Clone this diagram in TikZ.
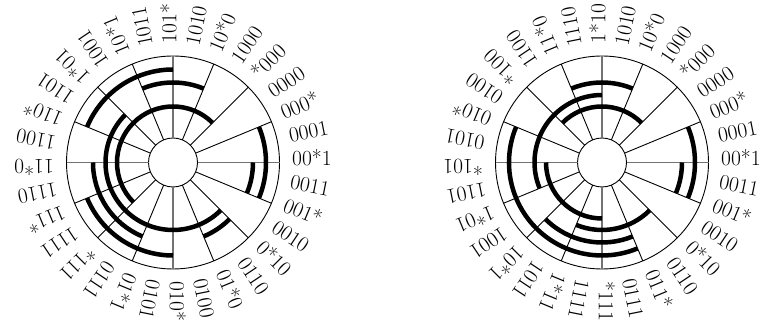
\documentclass[tikz,border=0pt]{standalone}
\usepackage{fontspec}
\setmainfont{Latin Modern Roman}
\newcommand\hvarc[3]{\draw[heavy] (#1:#3pt) arc[start angle=#1, end angle=#2, radius=#3pt];}
\begin{document}
\begin{tikzpicture}[x=1pt,y=1pt,
  thinline/.style={line width=0.9pt, draw=black},
  axisline/.style={line width=1.3pt, draw=black!55},
  heavy/.style={line width=4.5pt, line cap=butt, draw=black},
  lab/.style={anchor=west, inner sep=0pt, text height=0.65em, text depth=0pt,
              font=\fontsize{21.5}{24}\selectfont}]
\useasboundingbox (0,0) rectangle (762,328);
\coordinate (CA) at (173,165.5);
\coordinate (CB) at (602,165.5);
% ---------- left wheel ----------
\begin{scope}[shift={(CA)}]
  \draw[thinline] (0,0) circle[radius=106.5pt];
  \draw[thinline] (0,0) circle[radius=24.5pt];
  \foreach \a in {22.5,45,67.5,112.5,135,157.5,202.5,225,247.5,292.5,315,337.5}
    \draw[thinline] (\a:24.5pt) -- (\a:106.5pt);
  \foreach \a in {0,90,180,270}
    \draw[axisline] (\a:24.5pt) -- (\a:106.5pt);
  \foreach \t [count=\i from 0] in {00*1,0001,000*,0000,*000,1000,10*0,1010,101*,1011,10*1,1001,1*01,1101,110*,1100,11*0,1110,111*,1111,*111,0111,01*1,0101,010*,0100,01*0,0110,0*10,0010,001*,0011}
    \node[lab, rotate=\i*11.25] (A\i) at (\i*11.25:119pt) {\t};
  \hvarc{90}{157.5}{93}
  \hvarc{67.5}{112.5}{80}
  \hvarc{45}{225}{56}
  \hvarc{135}{315}{67.5}
  \hvarc{202.5}{270}{93}
  \hvarc{180}{247.5}{80}
  \hvarc{-22.5}{22.5}{93}
  \hvarc{-22.5}{0}{80}
  \hvarc{292.5}{315}{80}
\end{scope}
% ---------- right wheel ----------
\begin{scope}[shift={(CB)}]
  \draw[thinline] (0,0) circle[radius=106.5pt];
  \draw[thinline] (0,0) circle[radius=24.5pt];
  \foreach \a in {22.5,45,67.5,112.5,135,157.5,202.5,225,247.5,292.5,315,337.5}
    \draw[thinline] (\a:24.5pt) -- (\a:106.5pt);
  \foreach \a in {0,90,180,270}
    \draw[axisline] (\a:24.5pt) -- (\a:106.5pt);
  \foreach \t [count=\i from 0] in {00*1,0001,000*,0000,*000,1000,10*0,1010,1*10,1110,11*0,1100,*100,0100,010*,0101,*101,1101,1*01,1001,10*1,1011,1*11,1111,*111,0111,011*,0110,0*10,0010,001*,0011}
    \node[lab, rotate=\i*11.25] (B\i) at (\i*11.25:119pt) {\t};
  \hvarc{67.5}{112.5}{80}
  \hvarc{90}{202.5}{67.5}
  \hvarc{45}{135}{56}
  \hvarc{157.5}{292.5}{93}
  \hvarc{180}{270}{56}
  \hvarc{247.5}{315}{67.5}
  \hvarc{225}{292.5}{80}
  \hvarc{-22.5}{22.5}{93}
  \hvarc{-22.5}{0}{80}
\end{scope}
\end{tikzpicture}
\end{document}
